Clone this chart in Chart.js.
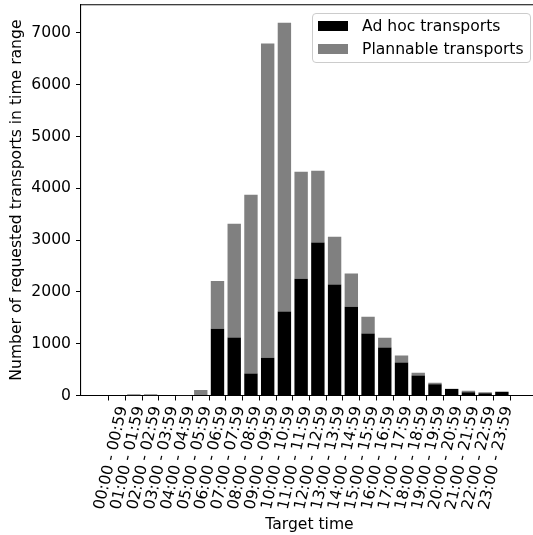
<!DOCTYPE html>
<html>
<head>
<meta charset="utf-8">
<script src="https://cdn.jsdelivr.net/npm/chart.js@4"></script>
<style>
  html, body { margin: 0; padding: 0; background: #fff; overflow: hidden; }
  #wrap { position: relative; width: 533px; height: 535px; overflow: hidden; }
  #chart { position: absolute; left: 0; top: 0; }
  #legend {
    position: absolute; left: 312px; top: 13px; width: 217px; height: 48px;
    border: 1px solid #cccccc; border-radius: 4px; background: rgba(255,255,255,0.8);
    font-family: "DejaVu Sans", sans-serif; font-size: 15.6px; color: #000;
  }
  #legend .row { position: absolute; left: 5px; height: 18px; line-height: 18px; white-space: nowrap; }
  #legend .sw { display: inline-block; width: 30px; height: 10px; vertical-align: middle; margin-right: 14px; position: relative; top: -1px; }
</style>
</head>
<body>
<div id="wrap">
  <canvas id="chart" width="545" height="535"></canvas>
  <div id="legend">
    <div class="row" style="top:3px"><span class="sw" style="background:#000000"></span>Ad hoc transports</div>
    <div class="row" style="top:26px"><span class="sw" style="background:#808080"></span>Plannable transports</div>
  </div>
</div>
<script>
// --- data ---
const hourLabels = [
  '00:00 - 00:59', '01:00 - 01:59', '02:00 - 02:59', '03:00 - 03:59',
  '04:00 - 04:59', '05:00 - 05:59', '06:00 - 06:59', '07:00 - 07:59',
  '08:00 - 08:59', '09:00 - 09:59', '10:00 - 10:59', '11:00 - 11:59',
  '12:00 - 12:59', '13:00 - 13:59', '14:00 - 14:59', '15:00 - 15:59',
  '16:00 - 16:59', '17:00 - 17:59', '18:00 - 18:59', '19:00 - 19:59',
  '20:00 - 20:59', '21:00 - 21:59', '22:00 - 22:59', '23:00 - 23:59'
];
const adHoc = [0, 5, 5, 0, 0, 10, 1290, 1120, 425, 730, 1620, 2255,
               2955, 2145, 1715, 1195, 925, 635, 385, 218, 125, 65, 45, 70];
const plannable = [0, 20, 20, 0, 5, 95, 920, 2195, 3450, 6065, 5575, 2065,
                   1385, 920, 640, 325, 190, 135, 55, 27, 5, 25, 20, 2];
const yTicks = [0, 1000, 2000, 3000, 4000, 5000, 6000, 7000];

const FONT = { family: '"DejaVu Sans", sans-serif', size: 15.6 };

// top and right spines (matplotlib style frame)
const framePlugin = {
  id: 'frame',
  afterDraw(chart) {
    const { ctx, chartArea: a } = chart;
    ctx.save();
    ctx.strokeStyle = '#000';
    ctx.lineWidth = 1.1;
    ctx.beginPath();
    ctx.moveTo(a.left, a.top);
    ctx.lineTo(a.right, a.top);
    ctx.lineTo(a.right, a.bottom);
    ctx.stroke();
    ctx.restore();
  }
};

const toPoints = arr => arr.map((v, i) => ({ x: i, y: v }));

new Chart(document.getElementById('chart'), {
  type: 'bar',
  data: {
    datasets: [
      { label: 'Ad hoc transports', data: toPoints(adHoc), backgroundColor: '#000000',
        barPercentage: 0.8, categoryPercentage: 1 },
      { label: 'Plannable transports', data: toPoints(plannable), backgroundColor: '#808080',
        barPercentage: 0.8, categoryPercentage: 1 }
    ]
  },
  options: {
    responsive: false,
    animation: false,
    devicePixelRatio: 1,
    layout: { padding: { left: 0, top: 4.7, right: 7, bottom: 0 } },
    plugins: { legend: { display: false }, tooltip: { enabled: false } },
    scales: {
      x: {
        type: 'linear', stacked: true, min: -1.59, max: 24.59,
        afterBuildTicks: axis => { axis.ticks = hourLabels.map((_, i) => ({ value: i })); },
        afterFit: axis => {
          axis.height = 139.5;
          axis.paddingLeft = 0; axis.paddingRight = 0;
        },
        grid: { display: true, drawOnChartArea: false, drawTicks: true, tickLength: 5, color: '#000' },
        border: { display: true, color: '#000', width: 1.1 },
        ticks: {
          autoSkip: false, minRotation: 77, maxRotation: 77, padding: 4, labelOffset: 6,
          color: '#000', font: FONT,
          callback: v => hourLabels[v]
        },
        title: { display: true, text: 'Target time', color: '#000', font: FONT, padding: { top: 0, bottom: 1 } }
      },
      y: {
        stacked: true, min: 0, max: 7545,
        afterBuildTicks: axis => { axis.ticks = yTicks.map(v => ({ value: v })); },
        afterFit: axis => {
          axis.width = 81;
          axis.paddingTop = 0; axis.paddingBottom = 0;
        },
        grid: { display: true, drawOnChartArea: false, drawTicks: true, tickLength: 5, color: '#000' },
        border: { display: true, color: '#000', width: 1.1 },
        ticks: { padding: 5, color: '#000', font: FONT, callback: v => String(v) },
        title: { display: true, text: 'Number of requested transports in time range', color: '#000',
                 font: FONT, padding: { top: 8, bottom: 0 } }
      }
    }
  },
  plugins: [framePlugin]
});
</script>
</body>
</html>
